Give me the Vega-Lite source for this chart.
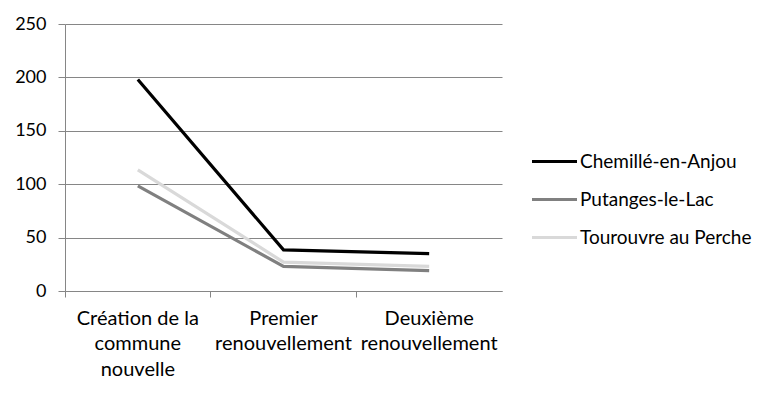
{
  "$schema": "https://vega.github.io/schema/vega-lite/v6.json",
  "width": 437,
  "height": 267,
  "autosize": {"type": "none"},
  "padding": {"left": 65, "top": 24, "right": 277, "bottom": 105},
  "background": "white",
  "config": {
    "view": {"stroke": null},
    "font": "Lato",
    "axis": {"labelFont": "Lato", "labelFontSize": 18, "labelColor": "#000000", "domainColor": "#868686", "tickColor": "#868686", "gridColor": "#868686"}
  },
  "data": {
    "values": [
      {"etape": "Création de la|commune|nouvelle", "commune": "Chemillé-en-Anjou", "valeur": 198},
      {"etape": "Premier|renouvellement", "commune": "Chemillé-en-Anjou", "valeur": 38.5},
      {"etape": "Deuxième|renouvellement", "commune": "Chemillé-en-Anjou", "valeur": 35},
      {"etape": "Création de la|commune|nouvelle", "commune": "Putanges-le-Lac", "valeur": 98.5},
      {"etape": "Premier|renouvellement", "commune": "Putanges-le-Lac", "valeur": 23},
      {"etape": "Deuxième|renouvellement", "commune": "Putanges-le-Lac", "valeur": 19},
      {"etape": "Création de la|commune|nouvelle", "commune": "Tourouvre au Perche", "valeur": 113.5},
      {"etape": "Premier|renouvellement", "commune": "Tourouvre au Perche", "valeur": 27},
      {"etape": "Deuxième|renouvellement", "commune": "Tourouvre au Perche", "valeur": 23}
    ]
  },
  "mark": {"type": "line", "strokeWidth": 3.2},
  "encoding": {
    "x": {
      "field": "etape", "type": "nominal", "sort": null,
      "bandPosition": 0.5,
      "scale": {"type": "band", "paddingInner": 0, "paddingOuter": 0},
      "axis": {"title": null, "labelAngle": 0, "bandPosition": 0, "tickSize": 6, "labelPadding": 11, "labelFontSize": 20, "labelExpr": "split(datum.label, '|')", "labelLineHeight": 25.5, "labelBaseline": "top", "labelLimit": 300, "grid": false, "domain": true}
    },
    "y": {
      "field": "valeur", "type": "quantitative",
      "scale": {"domain": [0, 250], "nice": false},
      "axis": {"title": null, "values": [0, 50, 100, 150, 200, 250], "tickSize": 7, "labelPadding": 12, "grid": true, "domain": true}
    },
    "color": {
      "field": "commune", "type": "nominal",
      "scale": {"domain": ["Chemillé-en-Anjou", "Putanges-le-Lac", "Tourouvre au Perche"], "range": ["#000000", "#808080", "#d9d9d9"]},
      "legend": {"title": null, "orient": "none", "legendX": 465, "legendY": 113, "symbolType": "stroke", "symbolSize": 2025, "symbolStrokeWidth": 3.2, "labelFont": "Lato", "labelFontSize": 19, "labelColor": "#000000", "labelOffset": 1, "labelLimit": 300, "rowPadding": 3, "padding": 0}
    }
  }
}
